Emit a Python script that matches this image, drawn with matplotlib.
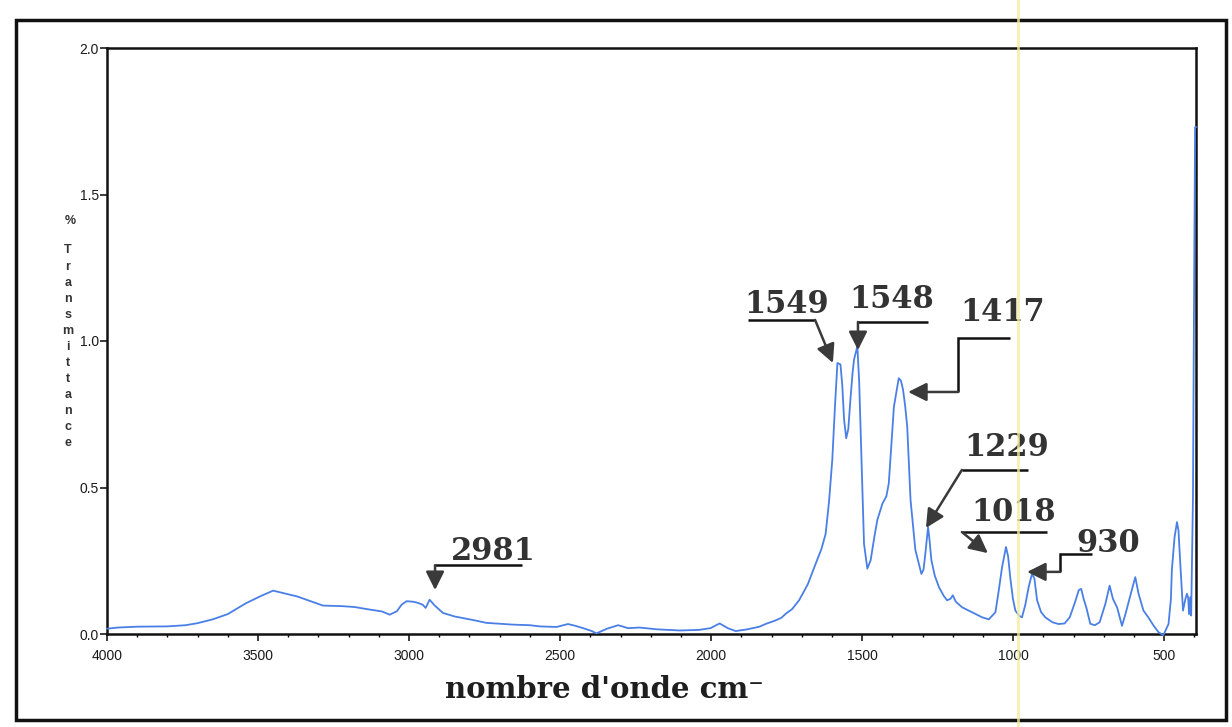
import matplotlib
matplotlib.use("Agg")
import matplotlib.pyplot as plt
from matplotlib.lines import Line2D
from matplotlib.patches import Rectangle

# IR spectrum: wavenumber (cm-1) and % transmittance
wavenumber = [
    4000, 3965, 3900, 3800, 3740, 3700, 3650, 3600, 3540, 3490,
    3450, 3410, 3370, 3320, 3285, 3220, 3180, 3140, 3090, 3064,
    3040, 3025, 3008, 2985, 2970, 2955, 2945, 2932, 2915, 2888,
    2850, 2820, 2780, 2744, 2700, 2656, 2600, 2568, 2512, 2474,
    2450, 2424, 2395, 2380, 2345, 2308, 2275, 2237, 2180, 2104,
    2040, 2002, 1980, 1972, 1945, 1919, 1880, 1840, 1818, 1790,
    1768, 1752, 1732, 1709, 1680, 1654, 1635, 1621, 1610, 1599,
    1590, 1582, 1572, 1566, 1560, 1553, 1546, 1539, 1532, 1527,
    1516, 1510, 1505, 1499, 1494, 1483, 1472, 1460, 1450, 1433,
    1420, 1412, 1403, 1395, 1379, 1372, 1365, 1358, 1351, 1340,
    1324, 1304, 1297, 1291, 1282, 1277, 1271, 1260, 1246, 1230,
    1219, 1208, 1200, 1190, 1169, 1136, 1103, 1081, 1059, 1048,
    1037, 1024, 1017, 1010, 1001, 993, 980, 971, 960, 949,
    938, 930, 921, 908, 894, 870, 850, 830, 813, 795,
    783, 775, 767, 758, 745, 730, 714, 705, 695, 681,
    670, 656, 640, 628, 614, 596, 585, 569, 553, 535,
    519, 503, 486, 478, 475, 466, 458, 453, 447, 438,
    430, 425, 421, 418, 414, 411, 405, 402, 398, 395,
]
transmittance = [
    0.018, 0.022, 0.025, 0.026, 0.030, 0.037, 0.050, 0.068, 0.105, 0.130,
    0.148, 0.138, 0.128, 0.110, 0.097, 0.095, 0.092, 0.085, 0.077, 0.066,
    0.078, 0.100, 0.112, 0.110, 0.106, 0.100, 0.089, 0.117, 0.097, 0.072,
    0.060, 0.054, 0.046, 0.038, 0.035, 0.032, 0.030, 0.026, 0.024, 0.034,
    0.028, 0.020, 0.010, 0.002, 0.018, 0.030, 0.020, 0.022, 0.016, 0.012,
    0.014, 0.020, 0.032, 0.036, 0.020, 0.010, 0.016, 0.025, 0.035, 0.045,
    0.055, 0.070, 0.085, 0.115, 0.170, 0.240, 0.290, 0.342, 0.450, 0.595,
    0.780, 0.925, 0.920, 0.850, 0.732, 0.668, 0.700, 0.800, 0.890, 0.937,
    0.982, 0.860, 0.685, 0.480, 0.308, 0.223, 0.252, 0.330, 0.389, 0.445,
    0.470, 0.514, 0.650, 0.776, 0.873, 0.865, 0.835, 0.780, 0.708, 0.458,
    0.287, 0.205, 0.220, 0.274, 0.365, 0.320, 0.252, 0.200, 0.160, 0.130,
    0.115, 0.120, 0.132, 0.110, 0.091, 0.074, 0.057, 0.050, 0.074, 0.148,
    0.228, 0.297, 0.265, 0.194, 0.120, 0.080, 0.062, 0.057, 0.100, 0.160,
    0.205, 0.190, 0.115, 0.075, 0.057, 0.040, 0.034, 0.036, 0.057, 0.110,
    0.150, 0.154, 0.120, 0.090, 0.035, 0.030, 0.040, 0.070, 0.103, 0.165,
    0.120, 0.090, 0.028, 0.070, 0.125, 0.194, 0.137, 0.080, 0.057, 0.028,
    0.006, -0.004, 0.034, 0.120, 0.217, 0.330, 0.382, 0.353, 0.240, 0.080,
    0.120, 0.137, 0.125, 0.068, 0.125, 0.063, 0.470, 1.050, 1.730, 1.730,
]

x_ticks = [4000, 3500, 3000, 2500, 2000, 1500, 1000, 500]
y_ticks = [0.0, 0.5, 1.0, 1.5, 2.0]

# peak labels
peak_labels = ["2981", "1549", "1548", "1417", "1229", "1018", "930"]

W, H = 1232, 727
fig = plt.figure(figsize=(W / 100, H / 100), dpi=100)
fig.patch.set_facecolor("white")

ax = fig.add_axes([107 / W, 1 - 634 / H, (1196 - 107) / W, (634 - 48) / H])
ax.plot(wavenumber, transmittance, color="#4a7fe6", lw=1.3, clip_on=False, zorder=3)
ax.set_xlim(4000, 395)
ax.set_ylim(0, 2.0)

ax.set_xticks(x_ticks)
ax.set_xticklabels([str(t) for t in x_ticks])
ax.set_xticks(range(3900, 395, -100), minor=True)
ax.set_yticks(y_ticks)
ax.set_yticklabels([f"{t:.1f}" for t in y_ticks])
ax.tick_params(axis="both", which="major", direction="out", length=5, width=1.2,
               labelsize=10, colors="#1a1a1a")
ax.tick_params(axis="x", which="major", pad=6)
ax.tick_params(axis="y", which="major", pad=1)
ax.tick_params(axis="x", which="minor", direction="out", length=2.5, width=1.0)
for lab in ax.get_xticklabels() + ax.get_yticklabels():
    lab.set_fontfamily("Liberation Sans")
for sp in ax.spines.values():
    sp.set_linewidth(1.8)
    sp.set_color("#111111")

# stacked y-axis title
ylab_kw = dict(ha="center", va="center_baseline", fontsize=9, fontweight="bold",
               family="Liberation Sans", color="#333333")
fig.text(70 / W, 1 - 219 / H, "%", **ylab_kw)
for i, ch in enumerate("Transmittance"):
    fig.text(68 / W, 1 - (249 + i * 16) / H, ch, **ylab_kw)

# x-axis title
fig.text(604 / W, 1 - 690 / H, "nombre d'onde cm\u207b", ha="center", va="center",
         fontsize=21, fontweight="bold", family="DejaVu Serif", color="#1e1e1e")

label_kw = dict(ha="center", va="center", fontsize=22, fontweight="bold",
                family="DejaVu Serif", color="#333333", zorder=5)
arrow_kw = dict(arrowstyle="-|>,head_length=0.7,head_width=0.35", color="#3a3a3a",
                lw=1.8, shrinkA=0, shrinkB=0, mutation_scale=16)

annotations = [
    # text position, leader polyline (last segment carries the arrow head)
    ((2722, 0.283), [(2626, 0.235), (2914, 0.235), (2914, 0.150)]),
    ((1749, 1.126), [(1878, 1.072), (1656, 1.072), (1597, 0.925)]),
    ((1401, 1.140), [(1282, 1.065), (1514, 1.065), (1514, 0.969)]),
    ((1034, 1.096), [(1011, 1.010), (1183, 1.010), (1183, 0.826), (1348, 0.826)]),
    ((1021, 0.635), [(951, 0.560), (1170, 0.560), (1289, 0.362)]),
    ((998, 0.416), [(888, 0.348), (1170, 0.348), (1084, 0.276)]),
    ((686, 0.310), [(739, 0.273), (845, 0.273), (845, 0.212), (954, 0.212)]),
]
for label, (pos, path) in zip(peak_labels, annotations):
    ax.text(pos[0], pos[1], label, **label_kw)
    xs = [p[0] for p in path[:-1]]
    ys = [p[1] for p in path[:-1]]
    ax.plot(xs, ys, color="#111111", lw=1.8, clip_on=False, zorder=4,
            solid_capstyle="butt", solid_joinstyle="miter")
    ax.annotate("", xy=path[-1], xytext=path[-2], arrowprops=arrow_kw,
                annotation_clip=False, zorder=4)

# page frame and scanner streak
fig.add_artist(Rectangle((16 / W, 1 - 720 / H), (1226 - 16) / W, (720 - 20) / H,
                         fill=False, lw=2.5, ec="#111111", transform=fig.transFigure))
fig.add_artist(Line2D([1018 / W, 1018 / W], [0, 1], color="#f2ee9c", lw=2,
                      alpha=0.8, transform=fig.transFigure, zorder=10))

fig.savefig("out.png", dpi=100, facecolor="white")
